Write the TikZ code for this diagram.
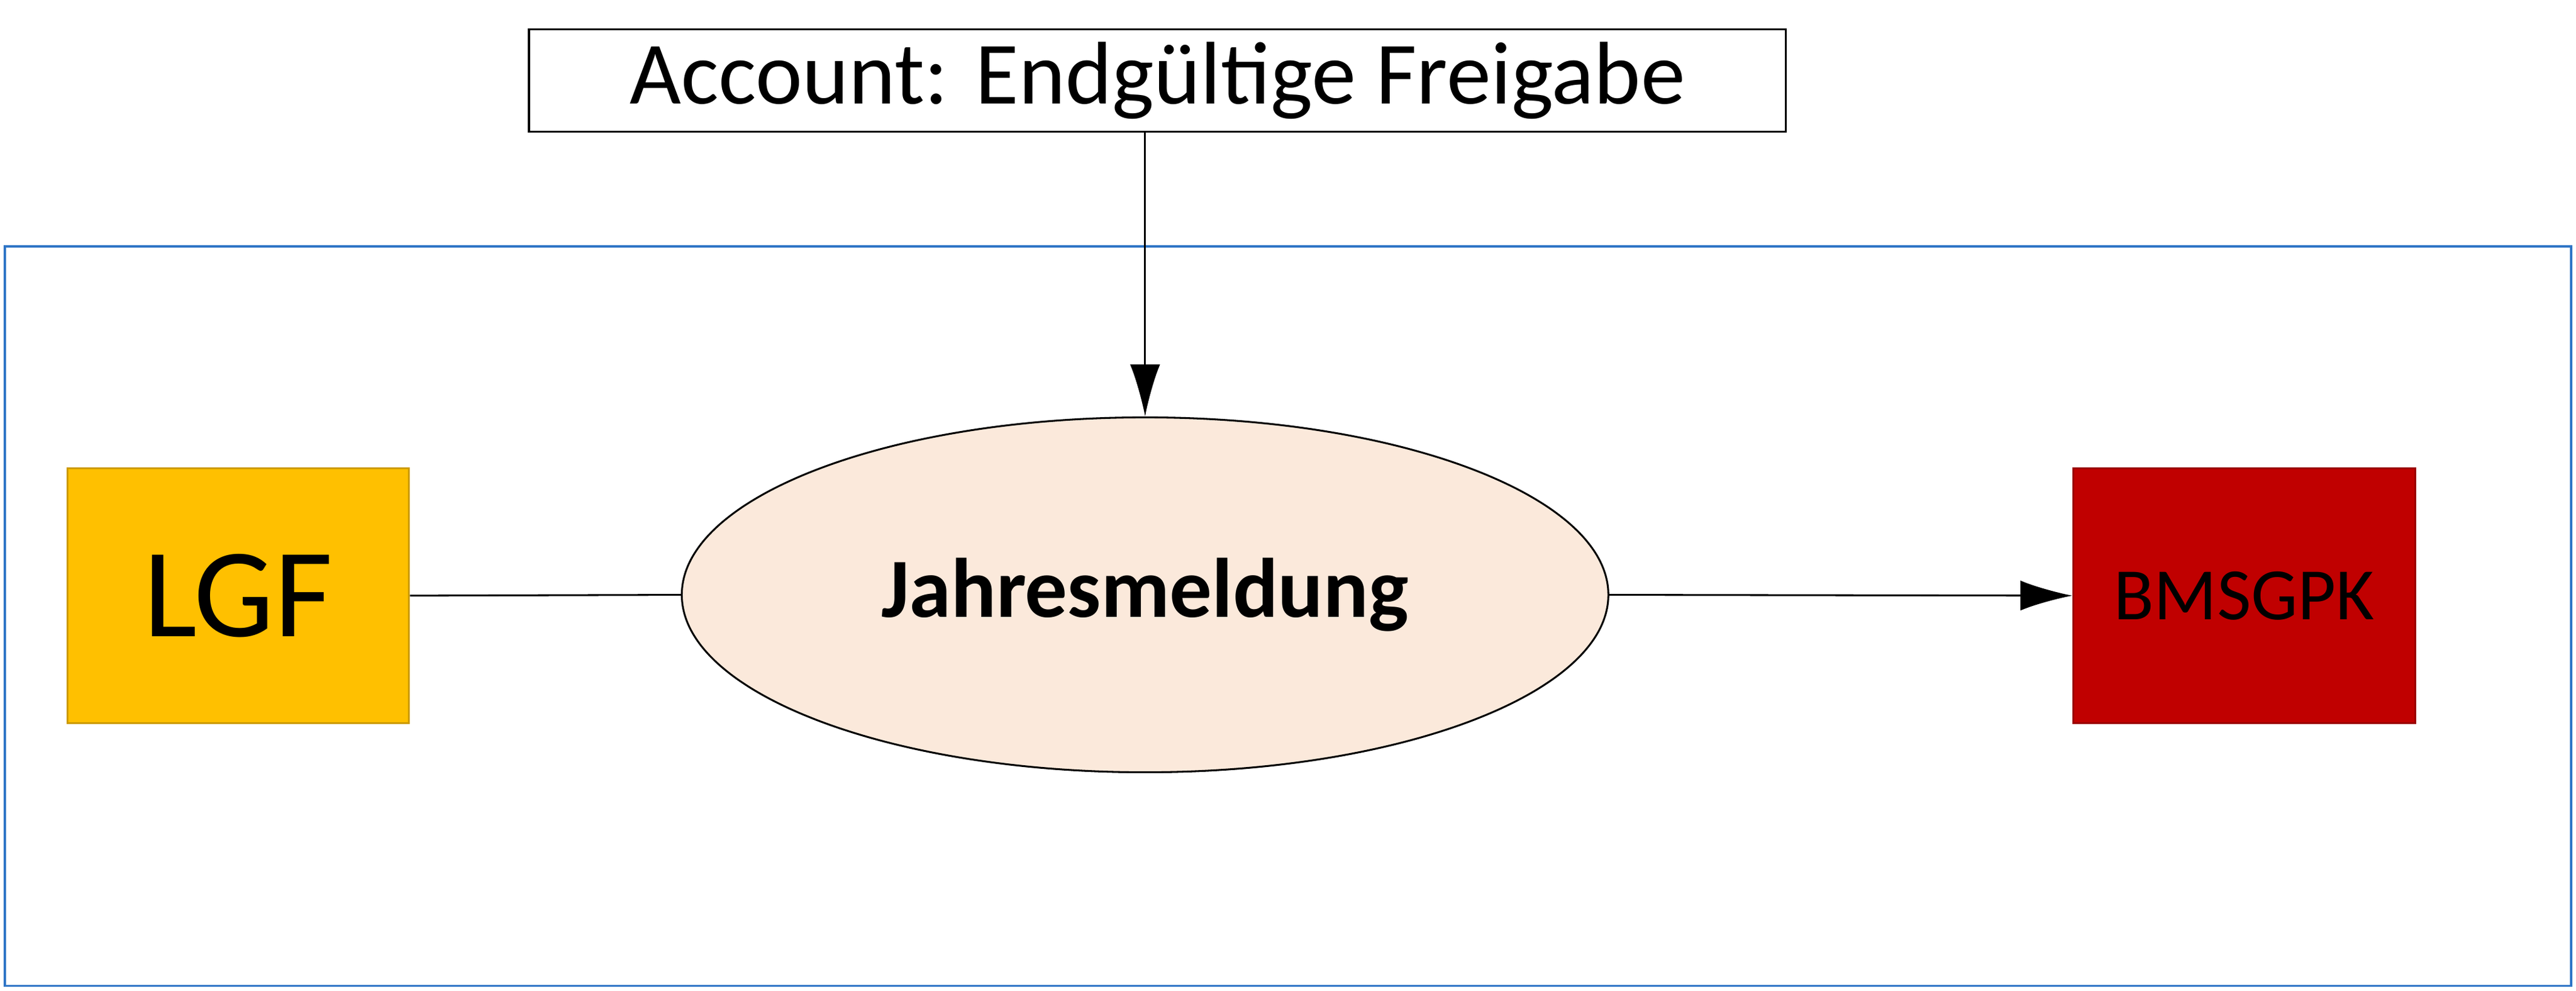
\documentclass[tikz,border=0pt]{standalone}
\usepackage{fontspec}
\setmainfont{Carlito}
\usetikzlibrary{shapes.geometric,arrows.meta}
\definecolor{lgfgold}{HTML}{FFC000}
\definecolor{bmred}{HTML}{C00000}
\definecolor{jahrfill}{HTML}{FBE9DB}
\definecolor{frameblue}{HTML}{2E75C6}

\begin{document}
\begin{tikzpicture}[x=0.05cm,y=0.05cm,line width=1.6pt]
    \tikzstyle{box}=[draw,minimum width=208*0.05cm,minimum height=155*0.05cm,inner sep=0pt]
    \tikzstyle{flow}=[-{Latex[length=45pt,width=26pt]}]

    \useasboundingbox (0,0) rectangle (1568,603);

    % Frame
    \draw[frameblue,line width=2pt] (3,3) rectangle (1565,453);

    % Nodes
    \node[draw,minimum width=765*0.05cm,minimum height=62*0.05cm,inner sep=0pt,
          font=\fontsize{77}{80}\selectfont] (acc) at (704.5,554) {Account: Endgültige Freigabe};
    \node[box,fill=lgfgold,draw=lgfgold!80!black,font=\fontsize{110}{115}\selectfont] (lgf) at (145,240.5) {LGF};
    \node[ellipse,draw,fill=jahrfill,minimum width=564*0.05cm,minimum height=216*0.05cm,
          inner sep=0pt,font=\bfseries\fontsize{73}{76}\selectfont] (jm) at (697,241) {Jahresmeldung};
    \node[box,fill=bmred,draw=bmred!80!black,font=\fontsize{64}{66}\selectfont] (bm) at (1366,240.5) {BMSGPK};

    % Connectors
    \draw (lgf.east) -- (jm.west);
    \draw[flow] (jm.east) -- (bm.west);
    \draw[flow] (acc.south -| jm.north) -- (jm.north);
\end{tikzpicture}
\end{document}
